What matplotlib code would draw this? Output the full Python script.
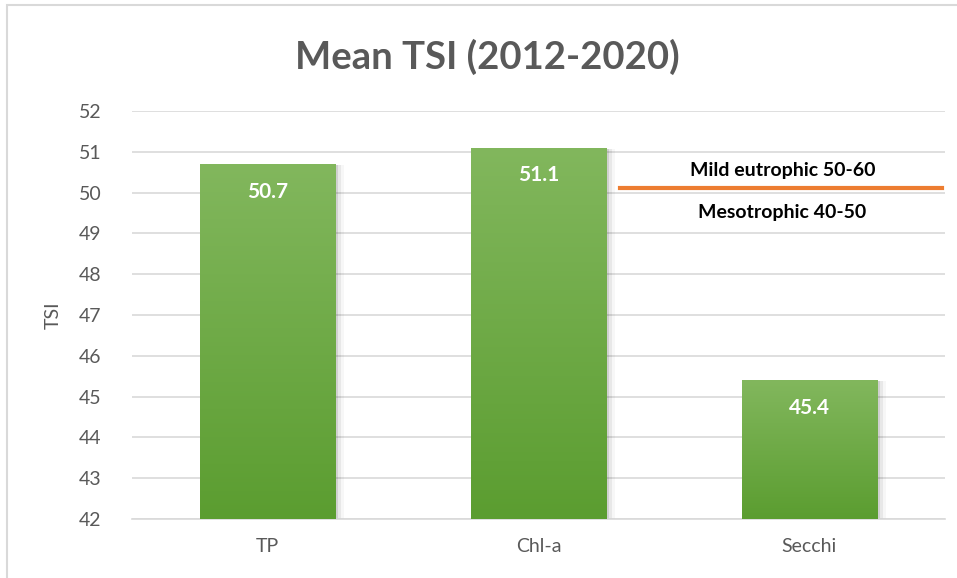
import matplotlib.pyplot as plt
import numpy as np
from matplotlib.patches import Rectangle
from matplotlib.colors import LinearSegmentedColormap

categories = ['TP', 'Chl-a', 'Secchi']
tsi_values = [50.7, 51.1, 45.4]
threshold = 50.1
upper_label = 'Mild eutrophic 50-60'
lower_label = 'Mesotrophic 40-50'
yticks = list(range(42, 53))

plt.rcParams['font.family'] = ['Lato', 'DejaVu Sans']
grey = '#595959'
grid_c = '#d9d9d9'

fig = plt.figure(figsize=(9.57, 5.78), dpi=100)
ax = fig.add_axes([0.1379, 0.1021, 0.8495, 0.7059])

# border of chart area
fig.patches.append(Rectangle((7 / 957, -0.1), 1.2, (578 - 5) / 578 + 0.1,
                             transform=fig.transFigure, fill=False,
                             edgecolor=grid_c, linewidth=1.5, zorder=0))

x = np.arange(len(categories))
width = 0.5

# gradient fill, light at top, dark at bottom
grad = np.linspace(0, 1, 256).reshape(-1, 1)
cmap = LinearSegmentedColormap.from_list('g', ['#5b9d30', '#82b75d'])

for xi, v in zip(x, tsi_values):
    # soft shadow
    for k, a in [(0.012, 0.10), (0.022, 0.06), (0.032, 0.03)]:
        ax.add_patch(Rectangle((xi - width / 2 + k, 42), width, v - 42 - 0.03,
                               facecolor='black', alpha=a, edgecolor='none', zorder=2))
    bar = ax.bar(xi, v - 42, width, bottom=42, color='none', zorder=3)[0]
    im = ax.imshow(grad, cmap=cmap, aspect='auto', origin='lower',
                   extent=(xi - width / 2, xi + width / 2, 42, v), zorder=3)
    im.set_clip_path(bar)
    ax.text(xi, v - 0.68, f'{v}', ha='center', va='center', color='white',
            fontsize=15, fontweight='bold', zorder=5)

ax.set_xlim(-0.5, 2.5)
ax.set_ylim(42, 52)

# threshold line
ax.plot([1.3, 2.49], [threshold, threshold], color='#ed7d31', linewidth=3, zorder=4)
ax.text(1.9, 50.55, upper_label, ha='center', va='center', fontsize=14,
        fontweight='bold', color='black')
ax.text(1.9, 49.5, lower_label, ha='center', va='center', fontsize=14,
        fontweight='bold', color='black')

ax.set_yticks(yticks)
ax.set_xticks(x)
ax.set_xticklabels(categories)
ax.grid(axis='y', color=grid_c, linewidth=1.2, zorder=0)
ax.set_axisbelow(True)
for s in ['top', 'right', 'left']:
    ax.spines[s].set_visible(False)
ax.spines['bottom'].set_color(grid_c)
ax.spines['bottom'].set_linewidth(1.2)
ax.tick_params(axis='both', length=0, labelsize=14, colors=grey)
ax.tick_params(axis='y', pad=22)
ax.tick_params(axis='x', pad=14)
ax.set_ylabel('TSI', fontsize=14, color=grey, labelpad=12)

fig.text(0.509, 0.902, 'Mean TSI (2012-2020)', ha='center', va='center',
         fontsize=27.5, fontweight='bold', color=grey)

fig.savefig('out.png', dpi=100)
